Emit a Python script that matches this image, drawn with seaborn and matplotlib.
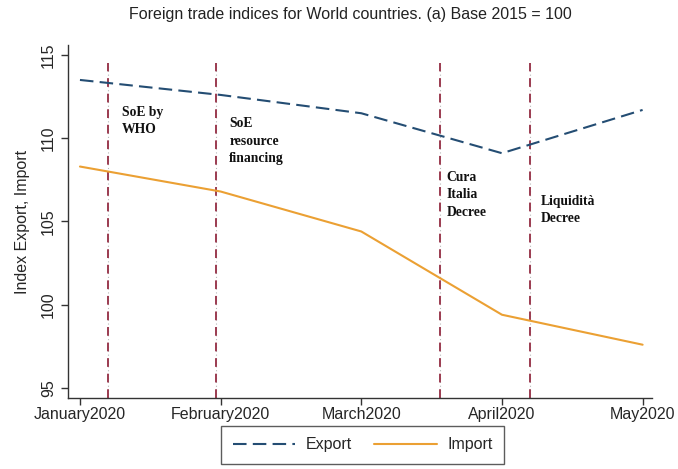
import matplotlib
matplotlib.use("Agg")
import matplotlib.pyplot as plt
import seaborn as sns
import pandas as pd
from matplotlib.lines import Line2D

# Monthly foreign trade indices (base 2015 = 100)
months = ["January2020", "February2020", "March2020", "April2020", "May2020"]
export_idx = [113.5, 112.6, 111.5, 109.1, 111.7]
import_idx = [108.3, 106.8, 104.4, 99.4, 97.6]

# Policy events, placed on the month axis (0 = January)
event_pos = [0.20, 0.968, 2.557, 3.20]
event_labels = ["SoE by\nWHO", "SoE\nresource\nfinancing", "Cura\nItalia\nDecree", "Liquidità\nDecree"]

y_ticks = [95, 100, 105, 110, 115]

df = pd.DataFrame({
    "month": list(range(len(months))) * 2,
    "value": export_idx + import_idx,
    "series": ["Export"] * len(months) + ["Import"] * len(months),
})

sns.set_style("white")
plt.rcParams["font.family"] = ["Liberation Sans", "DejaVu Sans"]

fig = plt.figure(figsize=(6.78, 4.69), dpi=100)
ax = fig.add_axes([0.1003, 0.1514, 0.8614, 0.7527])

navy = "#244d73"
orange = "#eba033"
maroon = "#9b3b50"

# Event markers: grey dotted core with maroon dashes on top
for xp in event_pos:
    ax.plot([xp, xp], [94.4, 114.5], color="#b8b8b8", lw=0.8, ls=(0, (1, 2.5)), zorder=1)
    ax.plot([xp, xp], [94.4, 114.5], color=maroon, lw=1.4, ls=(0, (4.5, 3.5)), zorder=2)

sns.lineplot(
    data=df, x="month", y="value", hue="series", style="series",
    palette={"Export": navy, "Import": orange},
    dashes={"Export": (6.5, 3.0), "Import": ""},
    linewidth=1.5, ax=ax, legend=False, zorder=3,
)

# Event captions, offset to the right of each marker
label_dx = [0.10, 0.093, 0.05, 0.078]
label_top = [111.95, 111.25, 108.05, 106.6]
for xp, lab, dx, yt in zip(event_pos, event_labels, label_dx, label_top):
    ax.text(xp + dx, yt, lab, family="Liberation Serif", fontweight="bold",
            fontsize=9.8, va="top", ha="left", linespacing=1.45, color="#111111")

ax.set_xlim(-0.085, 4.067)
ax.set_ylim(94.4, 115.6)
ax.set_xticks(range(len(months)))
ax.set_xticklabels(months)
ax.set_yticks(y_ticks)
ax.set_yticklabels([str(v) for v in y_ticks], rotation=90, va="center")
ax.set_xlabel("")
ax.set_ylabel("Index Export, Import", fontsize=11.5, labelpad=8)

for side in ["top", "right"]:
    ax.spines[side].set_visible(False)
for side in ["left", "bottom"]:
    ax.spines[side].set_color("#333333")
    ax.spines[side].set_linewidth(1.0)
ax.tick_params(axis="both", which="major", direction="out", length=5, width=1.0,
               color="#333333", labelsize=11.5, bottom=True, left=True)
ax.tick_params(axis="x", pad=1.5)

fig.suptitle("Foreign trade indices for World countries. (a) Base 2015 = 100",
             x=0.517, y=0.985, fontsize=11.5, color="#222222")

# Legend in a framed box beneath the plot
handles = [
    Line2D([], [], color=navy, lw=1.5, ls=(0, (6.5, 3.0))),
    Line2D([], [], color=orange, lw=1.5),
]
leg = fig.legend(handles, ["Export", "Import"], loc="center", ncol=2,
                 bbox_to_anchor=(0.535, 0.0512), frameon=True, fancybox=False,
                 fontsize=11.5, handlelength=3.9, columnspacing=1.4,
                 borderpad=0.75, handletextpad=0.65)
leg.get_frame().set_edgecolor("#333333")
leg.get_frame().set_linewidth(1.0)

fig.savefig("out.png", dpi=100)
